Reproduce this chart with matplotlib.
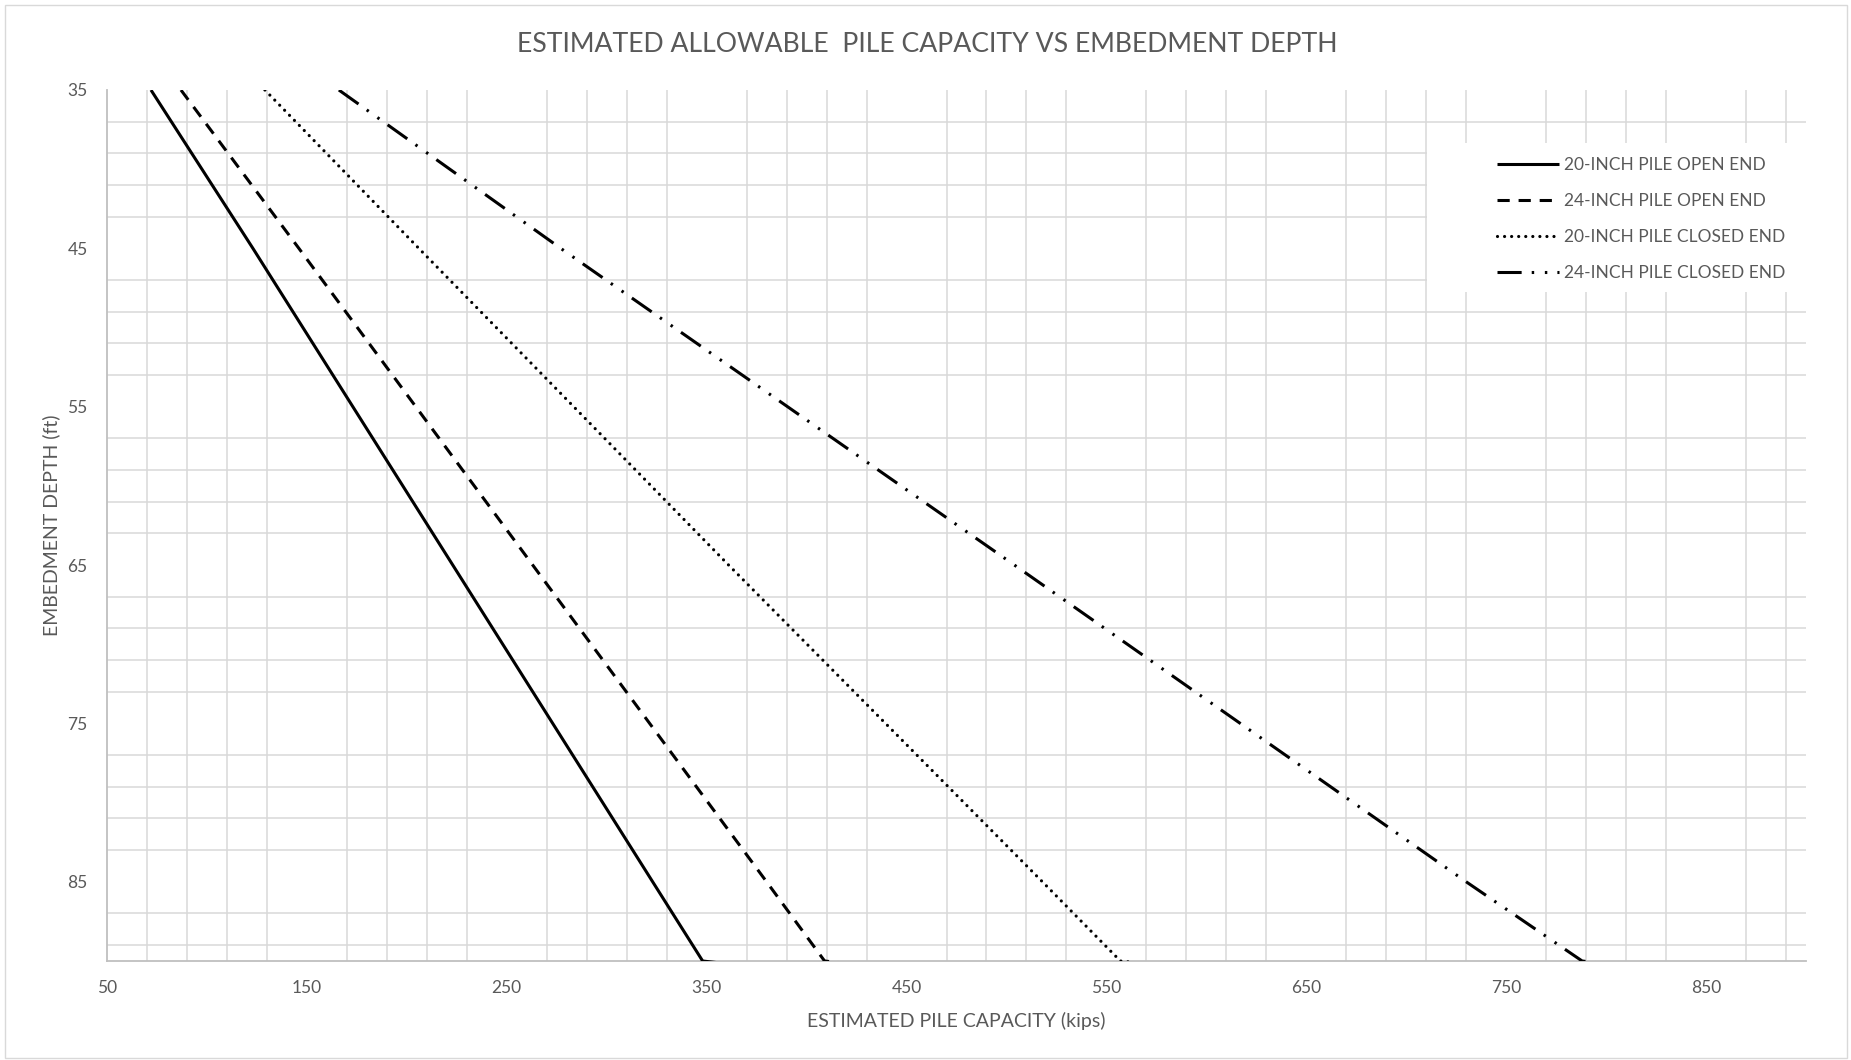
import matplotlib
matplotlib.use("Agg")
import matplotlib.pyplot as plt
from matplotlib.patches import Rectangle
from matplotlib.ticker import FixedLocator, NullFormatter

# Embedment depth (ft) and estimated allowable capacity (kips) for each pile type
depth = [35, 45, 65, 85, 90, 91]
open_20 = [72, 123, 223, 323, 348, 418]
open_24 = [87, 146, 263, 380, 409, 479]
closed_20 = [129, 206, 361, 518, 557, 627]
closed_24 = [166, 277, 504, 730, 788, 858]

series_labels = ["20-INCH PILE OPEN END", "24-INCH PILE OPEN END",
                 "20-INCH PILE CLOSED END", "24-INCH PILE CLOSED END"]

x_ticks = [50, 150, 250, 350, 450, 550, 650, 750, 850]
y_ticks = [35, 45, 55, 65, 75, 85]

TEXT = "#595959"
GRID = "#d9d9d9"
FONT = "Lato"
W, H = 1851, 1060

fig = plt.figure(figsize=(W / 100, H / 100), dpi=100)
ax = fig.add_axes([107 / W, 1 - 961 / H, (1806 - 107) / W, (961 - 90) / H])

# Outer chart border
fig.patches.append(Rectangle((5 / W, 2 / H), 1842 / W, 1053 / H,
                             transform=fig.transFigure, fill=False,
                             edgecolor=GRID, linewidth=1.0))

lw = 2.2
ax.plot(open_20, depth, color="black", lw=lw, solid_capstyle="butt",
        label=series_labels[0], zorder=3)
ax.plot(open_24, depth, color="black", lw=lw, linestyle=(0, (4.0, 2.9)),
        dash_capstyle="butt", label=series_labels[1], zorder=3)
ax.plot(closed_20, depth, color="black", lw=2.3, linestyle=(0, (0.01, 2.2)),
        dash_capstyle="round", label=series_labels[2], zorder=3)
ax.plot(closed_24, depth, color="black", lw=lw,
        linestyle=(0, (7.9, 3.3, 0.8, 3.5, 0.8, 3.3)),
        dash_capstyle="butt", label=series_labels[3], zorder=3)

ax.set_xlim(50, 900)
ax.set_ylim(90, 35)

ax.xaxis.set_major_locator(FixedLocator(x_ticks))
ax.xaxis.set_minor_locator(FixedLocator(list(range(50, 900, 20))))
ax.yaxis.set_major_locator(FixedLocator(y_ticks))
ax.yaxis.set_minor_locator(FixedLocator(list(range(35, 90, 2))))
ax.xaxis.set_minor_formatter(NullFormatter())
ax.yaxis.set_minor_formatter(NullFormatter())

ax.grid(which="minor", color=GRID, linewidth=1.1)
ax.grid(which="major", visible=False)
ax.set_axisbelow(True)
ax.tick_params(which="both", length=0)
ax.tick_params(axis="x", pad=14, labelsize=12.5, labelcolor=TEXT)
ax.tick_params(axis="y", pad=14, labelsize=12.5, labelcolor=TEXT)
for lab in ax.get_xticklabels() + ax.get_yticklabels():
    lab.set_fontfamily(FONT)

for side in ("top", "right"):
    ax.spines[side].set_visible(False)
for side in ("left", "bottom"):
    ax.spines[side].set_color("#bfbfbf")
    ax.spines[side].set_linewidth(1.3)

ax.set_xlabel("ESTIMATED PILE CAPACITY (kips)", fontsize=14, color=TEXT,
              family=FONT, labelpad=11)
ax.set_ylabel("EMBEDMENT DEPTH (ft)", fontsize=14, color=TEXT,
              family=FONT, labelpad=5)

fig.text(927 / W, 1 - 45 / H,
         "ESTIMATED ALLOWABLE  PILE CAPACITY VS EMBEDMENT DEPTH",
         ha="center", va="center", fontsize=19.2, color=TEXT, family=FONT)

# White legend panel sitting over the grid
ax.add_patch(Rectangle((1427 / W, 1 - 292 / H), (1806 - 1427) / W, (292 - 143) / H,
                       transform=fig.transFigure, facecolor="white",
                       edgecolor="none", zorder=2.6, clip_on=False))

leg = ax.legend(loc="upper left", bbox_to_anchor=(1497 / W, 1 - 157 / H),
                bbox_transform=fig.transFigure, frameon=False,
                prop={"family": FONT, "size": 12.5}, labelcolor=TEXT,
                handlelength=3.55, handletextpad=0.3, labelspacing=1.15,
                borderpad=0, borderaxespad=0)
leg.set_zorder(4)

fig.savefig("out.png", dpi=100, facecolor="white")
